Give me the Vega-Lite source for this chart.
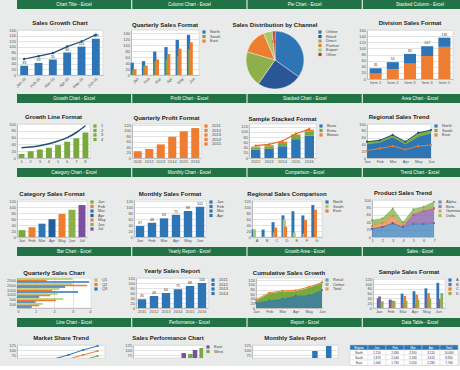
{
"$schema": "https://vega.github.io/schema/vega-lite/v6.json",
"background": "#e8ebe9",
"padding": 0,
"spacing": 4,
"resolve": {"scale": {"color": "independent"}, "legend": {"color": "independent"}},
"vconcat": [
{"spacing": 10, "resolve": {"scale": {"color": "independent"}, "legend": {"color": "independent"}}, "vconcat": [
 {"width": 460, "height": 9, "view": {"stroke": null, "fill": null},
  "data": {"values": [{"w":"a","t":"Chart Title - Excel"},{"w":"b","t":"Column Chart - Excel"},{"w":"c","t":"Pie Chart - Excel"},{"w":"d","t":"Stacked Column - Excel"}]},
  "encoding": {"x": {"field":"w","type":"nominal","axis":null,"scale":{"paddingInner":0.01,"paddingOuter":0}}},
  "layer": [{"mark":{"type":"rect","color":"#217346"}},{"mark":{"type":"text","color":"white","fontSize":4.5},"encoding":{"text":{"field":"t"}}}]},
 {"spacing": 10, "resolve": {"scale": {"color": "independent"}, "legend": {"color": "independent"}}, "hconcat": [
  {"title":"Sales Growth Chart","width":86,"height":45,
   "data":{"values":[{"m":"Jan-16","v":33,"l":57},{"m":"Feb-16","v":43,"l":67},{"m":"Mar-16","v":55,"l":78},{"m":"Apr-16","v":80,"l":101},{"m":"May-16","v":101,"l":119},{"m":"Jun-16","v":129,"l":143}]},
   "encoding":{"x":{"field":"m","type":"ordinal","sort":null,"title":null,"axis":{"labelAngle":-45},"scale":{"paddingInner":0.45}}},
   "layer":[
    {"mark":{"type":"bar","color":"#2e75b6"},"encoding":{"y":{"field":"v","type":"quantitative","title":null,"scale":{"domain":[0,150]}}}},
    {"mark":{"type":"text","fontSize":3.5,"dy":-3,"color":"#333"},"encoding":{"y":{"field":"v","type":"quantitative"},"text":{"field":"v"}}},
    {"mark":{"type":"line","color":"#1f4e79","strokeWidth":1.2,"point":{"filled":true,"size":6,"color":"#1f4e79"}},"encoding":{"y":{"field":"l","type":"quantitative"}}}
   ]},
  {"title":"Quarterly Sales Format","width":68,"height":45,
   "data":{"values":[
    {"m":"Jan","s":"North","v":41},{"m":"Jan","s":"South","v":15},{"m":"Jan","s":"East","v":19},
    {"m":"Feb","s":"North","v":46},{"m":"Feb","s":"South","v":31},{"m":"Feb","s":"East","v":31},
    {"m":"Mar","s":"North","v":78},{"m":"Mar","s":"South","v":45},{"m":"Mar","s":"East","v":52},
    {"m":"Apr","s":"North","v":93},{"m":"Apr","s":"South","v":52},{"m":"Apr","s":"East","v":70},
    {"m":"May","s":"North","v":117},{"m":"May","s":"South","v":62},{"m":"May","s":"East","v":88},
    {"m":"Jun","s":"North","v":134},{"m":"Jun","s":"South","v":85},{"m":"Jun","s":"East","v":109}]},
   "mark":{"type":"bar","width":3.3},
   "encoding":{"x":{"field":"m","type":"ordinal","sort":null,"title":null,"axis":{"labelAngle":-45},"scale":{"paddingInner":0.06,"paddingOuter":0.05}},
    "xOffset":{"field":"s","type":"nominal","sort":null,"scale":{"paddingInner":0,"paddingOuter":0}},
    "y":{"field":"v","type":"quantitative","title":null,"scale":{"domain":[0,150]}},
    "color":{"field":"s","type":"nominal","sort":null,"scale":{"range":["#2e75b6","#78a93d","#ed7d31"]},"legend":{"title":null}}}},
  {"title":"Sales Distribution by Channel","width":80,"height":60,
   "data":{"values":[{"k":"Online","v":35,"i":1},{"k":"Retail","v":25,"i":2},{"k":"Direct","v":20,"i":3},{"k":"Partner","v":14,"i":4},{"k":"Export","v":5,"i":5},{"k":"Other","v":1.5,"i":6}]},
   "encoding":{"theta":{"field":"v","type":"quantitative","stack":true},"order":{"field":"i"},
    "color":{"field":"k","type":"nominal","sort":null,"scale":{"range":["#2e75b6","#2a5597","#8db04c","#ed7d31","#a9c86a","#c0392b"]},"legend":{"title":null}}},
   "layer":[{"mark":{"type":"arc","outerRadius":29,"stroke":"white","strokeWidth":0.4}},
    {"mark":{"type":"text","radius":18,"fontSize":4,"color":"white"},"encoding":{"text":{"field":"v"}}}]},
  {"title":"Division Sales Format","width":86,"height":49,
   "layer":[
    {"data":{"values":[
     {"c":"Item 1","s":"Cost","v":18,"o":1},{"c":"Item 1","s":"Profit","v":17,"o":2},
     {"c":"Item 2","s":"Cost","v":32,"o":1},{"c":"Item 2","s":"Profit","v":23,"o":2},
     {"c":"Item 3","s":"Cost","v":50,"o":1},{"c":"Item 3","s":"Profit","v":32,"o":2},
     {"c":"Item 4","s":"Cost","v":75,"o":1},{"c":"Item 4","s":"Profit","v":32,"o":2},
     {"c":"Item 5","s":"Cost","v":105,"o":1},{"c":"Item 5","s":"Profit","v":30,"o":2}]},
     "mark":"bar",
     "encoding":{"x":{"field":"c","type":"ordinal","title":null,"axis":{"labelAngle":0},"scale":{"paddingInner":0.3}},
      "y":{"field":"v","type":"quantitative","title":null,"scale":{"domain":[0,150]}},
      "color":{"field":"s","type":"nominal","scale":{"domain":["Cost","Profit"],"range":["#ed7d31","#2e75b6"]},"legend":null},
      "order":{"field":"o"}}},
    {"data":{"values":[{"c":"Item 1","t":35},{"c":"Item 2","t":55},{"c":"Item 3","t":82},{"c":"Item 4","t":107},{"c":"Item 5","t":135}]},
     "mark":{"type":"text","dy":-3,"fontSize":3.5,"color":"#333"},
     "encoding":{"x":{"field":"c","type":"ordinal"},"y":{"field":"t","type":"quantitative"},"text":{"field":"t"}}}
   ]}
 ]}
]},
{"spacing": 10, "resolve": {"scale": {"color": "independent"}, "legend": {"color": "independent"}}, "vconcat": [
 {"width": 460, "height": 9, "view": {"stroke": null, "fill": null},
  "data": {"values": [{"w":"a","t":"Growth Chart - Excel"},{"w":"b","t":"Profit Chart - Excel"},{"w":"c","t":"Stacked Chart - Excel"},{"w":"d","t":"Area Chart - Excel"}]},
  "encoding": {"x": {"field":"w","type":"nominal","axis":null,"scale":{"paddingInner":0.01,"paddingOuter":0}}},
  "layer": [{"mark":{"type":"rect","color":"#217346"}},{"mark":{"type":"text","color":"white","fontSize":4.5},"encoding":{"text":{"field":"t"}}}]},
 {"spacing": 10, "resolve": {"scale": {"color": "independent"}, "legend": {"color": "independent"}}, "hconcat": [
  {"title":"Growth Line Format","width":73,"height":34,
   "data":{"values":[{"k":"1","v":12,"l":30},{"k":"2","v":20,"l":32},{"k":"3","v":25,"l":36},{"k":"4","v":30,"l":42},{"k":"5","v":38,"l":50},{"k":"6","v":48,"l":60},{"k":"7","v":58,"l":75},{"k":"8","v":75,"l":95}]},
   "encoding":{"x":{"field":"k","type":"ordinal","title":null,"axis":{"labelAngle":0},"scale":{"paddingInner":0.35}}},
   "layer":[
    {"mark":"bar","encoding":{"y":{"field":"v","type":"quantitative","title":null,"scale":{"domain":[0,100]}},
      "color":{"field":"k","type":"ordinal","scale":{"range":["#78a93d"]},"legend":{"title":null,"values":["1","2","3","4"]}}}},
    {"mark":{"type":"line","color":"#1f4e79","strokeWidth":1.5,"interpolate":"monotone"},"encoding":{"y":{"field":"l","type":"quantitative"}}}
   ]},
  {"title":"Quarterly Profit Format","width":69,"height":34,
   "data":{"values":[{"k":"2011","v":25},{"k":"2012","v":33},{"k":"2013","v":50},{"k":"2014","v":78},{"k":"2015","v":98},{"k":"2016","v":110}]},
   "mark":"bar",
   "encoding":{"x":{"field":"k","type":"ordinal","title":null,"axis":{"labelAngle":0},"scale":{"paddingInner":0.3}},
    "y":{"field":"v","type":"quantitative","title":null,"scale":{"domain":[0,125]}},
    "color":{"field":"k","type":"ordinal","scale":{"range":["#ed7d31"]},"legend":{"title":null,"values":["2011","2012","2013","2014","2015"]}}}},
  {"title":"Sample Stacked Format","width":67,"height":34,
   "layer":[
    {"data":{"values":[
     {"c":"2012","s":"Base","v":32,"o":1},{"c":"2012","s":"Extra","v":8,"o":2},{"c":"2012","s":"Bonus","v":4,"o":3},
     {"c":"2013","s":"Base","v":35,"o":1},{"c":"2013","s":"Extra","v":10,"o":2},{"c":"2013","s":"Bonus","v":4,"o":3},
     {"c":"2014","s":"Base","v":45,"o":1},{"c":"2014","s":"Extra","v":12,"o":2},{"c":"2014","s":"Bonus","v":5,"o":3},
     {"c":"2015","s":"Base","v":72,"o":1},{"c":"2015","s":"Extra","v":12,"o":2},{"c":"2015","s":"Bonus","v":6,"o":3},
     {"c":"2016","s":"Base","v":85,"o":1},{"c":"2016","s":"Extra","v":15,"o":2},{"c":"2016","s":"Bonus","v":8,"o":3}]},
     "mark":"bar",
     "encoding":{"x":{"field":"c","type":"ordinal","title":null,"axis":{"labelAngle":0},"scale":{"paddingInner":0.3}},
      "y":{"field":"v","type":"quantitative","title":null,"scale":{"domain":[0,125]}},
      "color":{"field":"s","type":"nominal","sort":null,"scale":{"domain":["Base","Extra","Bonus"],"range":["#2e75b6","#78a93d","#ed7d31"]},"legend":{"title":null}},
      "order":{"field":"o"}}},
    {"data":{"values":[{"c":"2012","t":47},{"c":"2013","t":52},{"c":"2014","t":65},{"c":"2015","t":93},{"c":"2016","t":111}]},
     "mark":{"type":"line","color":"#e06b1f","strokeWidth":1.2,"point":{"filled":true,"size":5,"color":"#e06b1f"}},
     "encoding":{"x":{"field":"c","type":"ordinal"},"y":{"field":"t","type":"quantitative"}}}
   ]},
  {"title":"Regional Sales Trend","width":64,"height":34,
   "data":{"values":[{"x":"Jan","b":40,"g":48,"o":22},{"x":"Feb","b":45,"g":52,"o":28},{"x":"Mar","b":60,"g":68,"o":35},{"x":"Apr","b":40,"g":48,"o":25},{"x":"May","b":62,"g":74,"o":35},{"x":"Jun","b":72,"g":82,"o":38}]},
   "encoding":{"x":{"field":"x","type":"ordinal","sort":null,"title":null,"axis":{"labelAngle":0},"scale":{"padding":0}}},
   "layer":[
    {"mark":{"type":"area","opacity":0.95},"encoding":{"y":{"field":"g","type":"quantitative","title":null,"scale":{"domain":[0,100]}},"color":{"datum":"South","scale":{"domain":["North","South","East"],"range":["#2e75b6","#78a93d","#ed7d31"]},"legend":{"title":null}}}},
    {"mark":{"type":"area"},"encoding":{"y":{"field":"b","type":"quantitative"},"color":{"datum":"North"}}},
    {"mark":{"type":"line","color":"#1f4e79","strokeWidth":1,"point":{"filled":true,"size":5,"color":"#1f4e79"}},"encoding":{"y":{"field":"g","type":"quantitative"}}},
    {"mark":{"type":"line","strokeWidth":1,"point":{"filled":true,"size":5,"color":"#ed7d31"}},"encoding":{"y":{"field":"o","type":"quantitative"},"color":{"datum":"East"}}}
   ]}
 ]}
]},
{"spacing": 12, "resolve": {"scale": {"color": "independent"}, "legend": {"color": "independent"}}, "vconcat": [
 {"width": 460, "height": 9, "view": {"stroke": null, "fill": null},
  "data": {"values": [{"w":"a","t":"Category Chart - Excel"},{"w":"b","t":"Monthly Chart - Excel"},{"w":"c","t":"Comparison - Excel"},{"w":"d","t":"Trend Chart - Excel"}]},
  "encoding": {"x": {"field":"w","type":"nominal","axis":null,"scale":{"paddingInner":0.01,"paddingOuter":0}}},
  "layer": [{"mark":{"type":"rect","color":"#217346"}},{"mark":{"type":"text","color":"white","fontSize":4.5},"encoding":{"text":{"field":"t"}}}]},
 {"spacing": 10, "resolve": {"scale": {"color": "independent"}, "legend": {"color": "independent"}}, "hconcat": [
  {"title":"Category Sales Format","width":70,"height":37,
   "data":{"values":[{"k":"Jan","v":23},{"k":"Feb","v":33},{"k":"Mar","v":45},{"k":"Apr","v":60},{"k":"May","v":78},{"k":"Jun","v":92},{"k":"Jul","v":108}]},
   "mark":"bar",
   "encoding":{"x":{"field":"k","type":"nominal","sort":null,"title":null,"axis":{"labelAngle":0},"scale":{"paddingInner":0.3}},
    "y":{"field":"v","type":"quantitative","title":null,"scale":{"domain":[0,125]}},
    "color":{"field":"k","type":"nominal","sort":null,"scale":{"range":["#78a93d","#ed7d31","#2e75b6","#1f5f9e","#ed7d31","#8db04c","#7b4fa0"]},"legend":{"title":null}}}},
  {"title":"Monthly Sales Format","width":72,"height":37,
   "data":{"values":[{"k":"Jan","v":37},{"k":"Feb","v":48},{"k":"Mar","v":63},{"k":"Apr","v":75},{"k":"May","v":88},{"k":"Jun","v":102}]},
   "encoding":{"x":{"field":"k","type":"ordinal","sort":null,"title":null,"axis":{"labelAngle":0},"scale":{"paddingInner":0.3}},
    "y":{"field":"v","type":"quantitative","title":null,"scale":{"domain":[0,125]}}},
   "layer":[
    {"mark":"bar","encoding":{"color":{"field":"k","type":"ordinal","sort":null,"scale":{"range":["#2e75b6"]},"legend":{"title":null,"values":["Jan","Feb","Mar","Apr"]}}}},
    {"mark":{"type":"text","dy":-3,"fontSize":3.5,"color":"#333"},"encoding":{"text":{"field":"v"}}}
   ]},
  {"title":"Regional Sales Comparison","width":70,"height":37,
   "data":{"values":[
    {"m":"A","s":"North","v":25},{"m":"A","s":"South","v":25},{"m":"A","s":"East","v":0},
    {"m":"B","s":"North","v":25},{"m":"B","s":"South","v":2},{"m":"B","s":"East","v":0},
    {"m":"C","s":"North","v":50},{"m":"C","s":"South","v":15},{"m":"C","s":"East","v":32},
    {"m":"D","s":"North","v":73},{"m":"D","s":"South","v":60},{"m":"D","s":"East","v":35},
    {"m":"E","s":"North","v":87},{"m":"E","s":"South","v":15},{"m":"E","s":"East","v":0},
    {"m":"F","s":"North","v":73},{"m":"F","s":"South","v":12},{"m":"F","s":"East","v":57},
    {"m":"G","s":"North","v":108},{"m":"G","s":"South","v":0},{"m":"G","s":"East","v":92}]},
   "mark":{"type":"bar","width":3},
   "encoding":{"x":{"field":"m","type":"ordinal","sort":null,"title":null,"axis":{"labelAngle":0},"scale":{"paddingInner":0.06,"paddingOuter":0.05}},
    "xOffset":{"field":"s","type":"nominal","sort":null,"scale":{"paddingInner":0,"paddingOuter":0}},
    "y":{"field":"v","type":"quantitative","title":null,"scale":{"domain":[0,125]}},
    "color":{"field":"s","type":"nominal","sort":null,"scale":{"range":["#2e75b6","#a9c86a","#ed7d31"]},"legend":{"title":null}}}},
  {"title":"Product Sales Trend","width":62,"height":37,
   "data":{"values":[
    {"x":"1","s":"Alpha","v":22,"o":1},{"x":"1","s":"Beta","v":0,"o":2},{"x":"1","s":"Gamma","v":8,"o":3},{"x":"1","s":"Delta","v":15,"o":4},
    {"x":"2","s":"Alpha","v":27,"o":1},{"x":"2","s":"Beta","v":0,"o":2},{"x":"2","s":"Gamma","v":10,"o":3},{"x":"2","s":"Delta","v":13,"o":4},
    {"x":"3","s":"Alpha","v":37,"o":1},{"x":"3","s":"Beta","v":0,"o":2},{"x":"3","s":"Gamma","v":20,"o":3},{"x":"3","s":"Delta","v":20,"o":4},
    {"x":"4","s":"Alpha","v":27,"o":1},{"x":"4","s":"Beta","v":0,"o":2},{"x":"4","s":"Gamma","v":5,"o":3},{"x":"4","s":"Delta","v":8,"o":4},
    {"x":"5","s":"Alpha","v":35,"o":1},{"x":"5","s":"Beta","v":25,"o":2},{"x":"5","s":"Gamma","v":2,"o":3},{"x":"5","s":"Delta","v":13,"o":4},
    {"x":"6","s":"Alpha","v":35,"o":1},{"x":"6","s":"Beta","v":35,"o":2},{"x":"6","s":"Gamma","v":2,"o":3},{"x":"6","s":"Delta","v":10,"o":4},
    {"x":"7","s":"Alpha","v":37,"o":1},{"x":"7","s":"Beta","v":40,"o":2},{"x":"7","s":"Gamma","v":2,"o":3},{"x":"7","s":"Delta","v":16,"o":4}]},
   "mark":{"type":"area","line":{"strokeWidth":0.5},"point":{"filled":true,"size":4,"color":"white"}},
   "encoding":{"x":{"field":"x","type":"ordinal","title":null,"axis":{"labelAngle":0},"scale":{"padding":0}},
    "y":{"field":"v","type":"quantitative","title":null,"stack":true,"scale":{"domain":[0,100]}},
    "color":{"field":"s","type":"nominal","sort":null,"scale":{"domain":["Alpha","Beta","Gamma","Delta"],"range":["#2e75b6","#7b4fa0","#ed7d31","#78a93d"]},"legend":{"title":null}},
    "order":{"field":"o"}}}
 ]}
]},
{"spacing": 11, "resolve": {"scale": {"color": "independent"}, "legend": {"color": "independent"}}, "vconcat": [
 {"width": 460, "height": 9, "view": {"stroke": null, "fill": null},
  "data": {"values": [{"w":"a","t":"Bar Chart - Excel"},{"w":"b","t":"Yearly Report - Excel"},{"w":"c","t":"Growth Area - Excel"},{"w":"d","t":"Sales - Excel"}]},
  "encoding": {"x": {"field":"w","type":"nominal","axis":null,"scale":{"paddingInner":0.01,"paddingOuter":0}}},
  "layer": [{"mark":{"type":"rect","color":"#217346"}},{"mark":{"type":"text","color":"white","fontSize":4.5},"encoding":{"text":{"field":"t"}}}]},
 {"spacing": 10, "resolve": {"scale": {"color": "independent"}, "legend": {"color": "independent"}}, "hconcat": [
  {"title":"Quarterly Sales Chart","width":74,"height":30,
   "data":{"values":[
    {"c":"2500","s":"Q1","v":3.0},{"c":"2500","s":"Q2","v":1.6},{"c":"2500","s":"Q3","v":3.9},
    {"c":"2000","s":"Q1","v":3.0},{"c":"2000","s":"Q2","v":3.8},{"c":"2000","s":"Q3","v":2.6},
    {"c":"1500","s":"Q1","v":2.3},{"c":"1500","s":"Q2","v":1.9},{"c":"1500","s":"Q3","v":3.3},
    {"c":"1000","s":"Q1","v":2.2},{"c":"1000","s":"Q2","v":1.8},{"c":"1000","s":"Q3","v":1.2},
    {"c":"500","s":"Q1","v":2.5},{"c":"500","s":"Q2","v":2.1},{"c":"500","s":"Q3","v":1.0},
    {"c":"100","s":"Q1","v":1.4},{"c":"100","s":"Q2","v":1.2},{"c":"100","s":"Q3","v":0.8}]},
   "mark":{"type":"bar","height":1.5},
   "encoding":{"y":{"field":"c","type":"ordinal","sort":null,"title":null,"scale":{"paddingInner":0.08,"paddingOuter":0.05}},
    "yOffset":{"field":"s","type":"nominal","sort":null,"scale":{"paddingInner":0,"paddingOuter":0}},
    "x":{"field":"v","type":"quantitative","title":null,"scale":{"domain":[0,4]},"axis":{"tickCount":4,"grid":true}},
    "color":{"field":"s","type":"nominal","sort":null,"scale":{"range":["#a9c86a","#ed7d31","#2e75b6"]},"legend":{"title":null}}}},
  {"title":"Yearly Sales Report","width":72,"height":30,
   "data":{"values":[{"k":"2011","v":35},{"k":"2012","v":48},{"k":"2013","v":60},{"k":"2014","v":75},{"k":"2015","v":88},{"k":"2016","v":100}]},
   "encoding":{"x":{"field":"k","type":"ordinal","title":null,"axis":{"labelAngle":0},"scale":{"paddingInner":0.3}},
    "y":{"field":"v","type":"quantitative","title":null,"scale":{"domain":[0,120]}}},
   "layer":[
    {"mark":"bar","encoding":{"color":{"field":"k","type":"ordinal","scale":{"range":["#2e75b6"]},"legend":{"title":null,"values":["2011","2012","2013","2014"]}}}},
    {"mark":{"type":"text","dy":-3,"fontSize":3.5,"color":"#333"},"encoding":{"text":{"field":"v"}}}
   ]},
  {"title":"Cumulative Sales Growth","width":66,"height":30,
   "data":{"values":[{"x":"Jan","b":23,"g":33,"o":36},{"x":"Feb","b":33,"g":63,"o":66},{"x":"Mar","b":40,"g":71,"o":74},{"x":"Apr","b":53,"g":73,"o":76},{"x":"May","b":55,"g":88,"o":91},{"x":"Jun","b":78,"g":108,"o":111}]},
   "encoding":{"x":{"field":"x","type":"ordinal","sort":null,"title":null,"axis":{"labelAngle":0},"scale":{"padding":0}}},
   "layer":[
    {"mark":"area","encoding":{"y":{"field":"g","type":"quantitative","title":null,"scale":{"domain":[0,125]}},"color":{"datum":"Online","scale":{"domain":["Retail","Online","Total"],"range":["#2e75b6","#78a93d","#ed7d31"]},"legend":{"title":null}}}},
    {"mark":{"type":"area","point":{"filled":true,"size":4,"color":"white"}},"encoding":{"y":{"field":"b","type":"quantitative"},"color":{"datum":"Retail"}}},
    {"mark":{"type":"line","strokeWidth":1,"point":{"filled":true,"size":5,"color":"#ed7d31"}},"encoding":{"y":{"field":"o","type":"quantitative"},"color":{"datum":"Total"}}}
   ]},
  {"title":"Sample Sales Format","width":72,"height":30,
   "data":{"values":[
    {"m":"Jan","s":"A","v":40},{"m":"Jan","s":"B","v":48},{"m":"Jan","s":"C","v":0},{"m":"Jan","s":"D","v":28},
    {"m":"Feb","s":"A","v":35},{"m":"Feb","s":"B","v":30},{"m":"Feb","s":"C","v":25},{"m":"Feb","s":"D","v":30},
    {"m":"Mar","s":"A","v":60},{"m":"Mar","s":"B","v":22},{"m":"Mar","s":"C","v":50},{"m":"Mar","s":"D","v":30},
    {"m":"Apr","s":"A","v":70},{"m":"Apr","s":"B","v":15},{"m":"Apr","s":"C","v":55},{"m":"Apr","s":"D","v":35},
    {"m":"May","s":"A","v":82},{"m":"May","s":"B","v":40},{"m":"May","s":"C","v":62},{"m":"May","s":"D","v":40},
    {"m":"Jun","s":"A","v":105},{"m":"Jun","s":"B","v":38},{"m":"Jun","s":"C","v":0},{"m":"Jun","s":"D","v":62}]},
   "mark":{"type":"bar","width":2.8},
   "encoding":{"x":{"field":"m","type":"ordinal","sort":null,"title":null,"axis":{"labelAngle":0},"scale":{"paddingInner":0.06,"paddingOuter":0.05}},
    "xOffset":{"field":"s","type":"nominal","sort":null,"scale":{"paddingInner":0,"paddingOuter":0}},
    "y":{"field":"v","type":"quantitative","title":null,"scale":{"domain":[0,125]}},
    "color":{"field":"s","type":"nominal","sort":null,"scale":{"range":["#2e75b6","#8064a2","#ed7d31","#8db04c"]},"legend":{"title":null}}}}
 ]}
]},
{"spacing": 7, "resolve": {"scale": {"color": "independent"}, "legend": {"color": "independent"}}, "vconcat": [
 {"width": 460, "height": 9, "view": {"stroke": null, "fill": null},
  "data": {"values": [{"w":"a","t":"Line Chart - Excel"},{"w":"b","t":"Performance - Excel"},{"w":"c","t":"Report - Excel"},{"w":"d","t":"Data Table - Excel"}]},
  "encoding": {"x": {"field":"w","type":"nominal","axis":null,"scale":{"paddingInner":0.01,"paddingOuter":0}}},
  "layer": [{"mark":{"type":"rect","color":"#217346"}},{"mark":{"type":"text","color":"white","fontSize":4.5},"encoding":{"text":{"field":"t"}}}]},
 {"spacing": 10, "resolve": {"scale": {"color": "independent"}, "legend": {"color": "independent"}}, "hconcat": [
  {"title":"Market Share Trend","width":88,"height":13,
   "data":{"values":[
    {"x":"1","s":"A","v":20},{"x":"2","s":"A","v":35},{"x":"3","s":"A","v":55},{"x":"4","s":"A","v":75},{"x":"5","s":"A","v":100},{"x":"6","s":"A","v":120},
    {"x":"1","s":"B","v":15},{"x":"2","s":"B","v":25},{"x":"3","s":"B","v":40},{"x":"4","s":"B","v":55},{"x":"5","s":"B","v":75},{"x":"6","s":"B","v":95},
    {"x":"1","s":"C","v":10},{"x":"2","s":"C","v":15},{"x":"3","s":"C","v":25},{"x":"4","s":"C","v":35},{"x":"5","s":"C","v":50},{"x":"6","s":"C","v":70}]},
   "mark":{"type":"line","strokeWidth":1,"clip":true,"point":{"filled":true,"size":5}},
   "encoding":{"x":{"field":"x","type":"ordinal","title":null,"axis":{"labels":false,"domain":false}},
    "y":{"field":"v","type":"quantitative","title":null,"scale":{"domain":[60,125]},"axis":{"values":[75,100,125]}},
    "color":{"field":"s","type":"nominal","scale":{"range":["#2e75b6","#ed7d31","#78a93d"]},"legend":null}}},
  {"title":"Sales Performance Chart","width":70,"height":13,
   "data":{"values":[
    {"m":"1","s":"East","v":0},{"m":"1","s":"West","v":0},{"m":"2","s":"East","v":5},{"m":"2","s":"West","v":0},
    {"m":"3","s":"East","v":20},{"m":"3","s":"West","v":10},{"m":"4","s":"East","v":55},{"m":"4","s":"West","v":40},
    {"m":"5","s":"East","v":85},{"m":"5","s":"West","v":80},{"m":"6","s":"East","v":100},{"m":"6","s":"West","v":110}]},
   "mark":{"type":"bar","clip":true,"width":4.5},
   "encoding":{"x":{"field":"m","type":"ordinal","title":null,"axis":{"labels":false,"domain":false},"scale":{"paddingInner":0.2}},
    "xOffset":{"field":"s","type":"nominal","sort":null},
    "y":{"field":"v","type":"quantitative","title":null,"scale":{"domain":[60,125]},"axis":{"values":[75,100,125]}},
    "color":{"field":"s","type":"nominal","sort":null,"scale":{"range":["#7b4fa0","#78a93d"]},"legend":{"title":null}}}},
  {"title":"Monthly Sales Report","width":86,"height":13,
   "data":{"values":[
    {"m":"1","s":"A","v":10},{"m":"1","s":"B","v":5},{"m":"2","s":"A","v":20},{"m":"2","s":"B","v":8},
    {"m":"3","s":"A","v":35},{"m":"3","s":"B","v":12},{"m":"4","s":"A","v":60},{"m":"4","s":"B","v":20},
    {"m":"5","s":"A","v":95},{"m":"5","s":"B","v":30},{"m":"6","s":"A","v":120},{"m":"6","s":"B","v":35}]},
   "mark":{"type":"bar","clip":true,"width":5.5},
   "encoding":{"x":{"field":"m","type":"ordinal","title":null,"axis":{"labels":false,"domain":false},"scale":{"paddingInner":0.2}},
    "xOffset":{"field":"s","type":"nominal","sort":null},
    "y":{"field":"v","type":"quantitative","title":null,"scale":{"domain":[60,125]},"axis":{"values":[75,100,125]}},
    "color":{"field":"s","type":"nominal","sort":null,"scale":{"range":["#2e75b6","#ed7d31"]},"legend":null}}},
  {"width":108,"height":20,"view":{"stroke":"#cfcfcf"},
   "data":{"values":[
    {"c":"a","r":"0","t":"Region","h":"H"},{"c":"b","r":"0","t":"Jan","h":"H"},{"c":"c","r":"0","t":"Feb","h":"H"},{"c":"d","r":"0","t":"Mar","h":"H"},{"c":"e","r":"0","t":"Apr","h":"H"},{"c":"f","r":"0","t":"Total","h":"H"},
    {"c":"a","r":"1","t":"North","h":"B"},{"c":"b","r":"1","t":"2,150","h":"B"},{"c":"c","r":"1","t":"2,480","h":"B"},{"c":"d","r":"1","t":"2,910","h":"B"},{"c":"e","r":"1","t":"3,120","h":"B"},{"c":"f","r":"1","t":"10,660","h":"B"},
    {"c":"a","r":"2","t":"South","h":"B"},{"c":"b","r":"2","t":"1,870","h":"B"},{"c":"c","r":"2","t":"2,040","h":"B"},{"c":"d","r":"2","t":"2,330","h":"B"},{"c":"e","r":"2","t":"2,610","h":"B"},{"c":"f","r":"2","t":"8,850","h":"B"},
    {"c":"a","r":"3","t":"East","h":"B"},{"c":"b","r":"3","t":"1,640","h":"B"},{"c":"c","r":"3","t":"1,790","h":"B"},{"c":"d","r":"3","t":"2,050","h":"B"},{"c":"e","r":"3","t":"2,280","h":"B"},{"c":"f","r":"3","t":"7,760","h":"B"}]},
   "encoding":{"x":{"field":"c","type":"ordinal","axis":null},"y":{"field":"r","type":"ordinal","axis":null}},
   "layer":[
    {"mark":{"type":"rect","stroke":"#d6d6d6","strokeWidth":0.4},"encoding":{"color":{"field":"h","type":"nominal","scale":{"domain":["H","B"],"range":["#2e75b6","#ffffff"]},"legend":null}}},
    {"mark":{"type":"text","fontSize":3},"encoding":{"text":{"field":"t"},"color":{"field":"h","type":"nominal","scale":{"domain":["H","B"],"range":["#ffffff","#333333"]},"legend":null}}}
   ],
   "resolve":{"scale":{"color":"independent"}}}
 ]}
]}
],
"config": {
 "font": "Liberation Sans",
 "view": {"fill": "white", "stroke": "#cfcfcf", "strokeWidth": 0.6},
 "axis": {"labelFontSize": 4, "tickSize": 0, "labelPadding": 1.5, "gridColor": "#e3e3e3", "domainColor": "#bfbfbf", "labelColor": "#555", "tickCount": 6, "labelOverlap": false},
 "axisX": {"grid": false},
 "axisY": {"minExtent": 16},
 "legend": {"labelFontSize": 4, "symbolSize": 10, "rowPadding": 0.5, "symbolType": "square", "padding": 0, "offset": 3, "labelLimit": 30, "symbolStrokeWidth": 0, "labelColor": "#444"},
 "title": {"fontSize": 6, "fontWeight": "bold", "offset": 2, "color": "#222"}
}
}
